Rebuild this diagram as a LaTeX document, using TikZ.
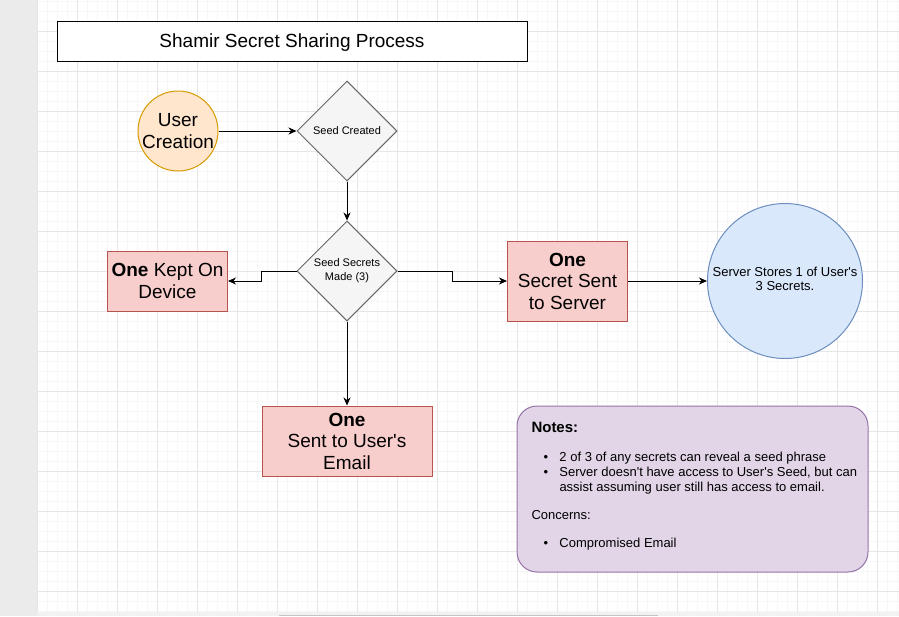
\documentclass[tikz,border=0pt]{standalone}
\usepackage{fontspec}
\setmainfont{Liberation Sans}
\usetikzlibrary{arrows.meta, shapes.geometric, positioning}

\definecolor{pagestrip}{HTML}{EBEBEB}
\definecolor{barlight}{HTML}{F2F2F2}
\definecolor{bardark}{HTML}{C4C4C4}
\definecolor{gridminor}{HTML}{F7F7F7}
\definecolor{gridmajor}{HTML}{E6E6E6}
\definecolor{userfill}{HTML}{FFE6CC}
\definecolor{userdraw}{HTML}{D79B00}
\definecolor{diafill}{HTML}{F5F5F5}
\definecolor{diadraw}{HTML}{666666}
\definecolor{sharefill}{HTML}{F8CECC}
\definecolor{sharedraw}{HTML}{B85450}
\definecolor{storefill}{HTML}{DAE8FC}
\definecolor{storedraw}{HTML}{6C8EBF}
\definecolor{notefill}{HTML}{E1D5E7}
\definecolor{notedraw}{HTML}{9673A6}

\newcommand{\bul}{\hspace*{12pt}\makebox[16pt][l]{\textbullet}}

\begin{document}
\begin{tikzpicture}[x=1pt,y=-1pt,>={Stealth[length=8pt,width=7pt,inset=2.5pt]},
                    line width=1pt,inner sep=0pt,node distance=140pt]
   \tikzstyle{bigtext}=[font=\fontsize{19}{21.5}\selectfont,align=center]
   \tikzstyle{decision}=[diamond,draw=diadraw,fill=diafill,minimum width=100pt,
                         minimum height=100pt,font=\fontsize{11}{14}\selectfont,align=center]
   \tikzstyle{share}=[rectangle,draw=sharedraw,fill=sharefill,bigtext]
   \tikzstyle{link}=[->,black]
   \tikzstyle{minorgrid}=[draw=gridminor,line width=0.8pt]
   \tikzstyle{majorgrid}=[draw=gridmajor]

   % page and grid
   \useasboundingbox (0,0) rectangle (899,616);
   \fill[white] (37,0) rectangle (899,612);
   \foreach \gx in {37,47,...,897} \draw[minorgrid] (\gx,0) -- (\gx,612);
   \foreach \gy in {1,11,...,611} \draw[minorgrid] (37,\gy) -- (899,\gy);
   \foreach \gx in {37,77,...,877} \draw[majorgrid] (\gx,0) -- (\gx,612);
   \foreach \gy in {31,71,...,591} \draw[majorgrid] (37,\gy) -- (899,\gy);
   \fill[pagestrip] (0,0) rectangle (37,616);
   \fill[barlight] (37,612) rectangle (899,616);
   \fill[bardark] (279,614.5) rectangle (658,616);

   \node[draw=black,fill=white,minimum width=470pt,minimum height=40pt,bigtext,text depth=0pt]
        (title) at (292,41) {Shamir Secret Sharing Process};

   \node[decision] (seed) at (347,131) {Seed Created};
   \node[circle,draw=userdraw,fill=userfill,minimum size=80pt,bigtext]
        (user) [node distance=169pt,left of=seed] {User\\Creation};
   \node[decision] (secrets) [below of=seed] {Seed Secrets\\Made (3)};
   \node[share,minimum width=120pt,minimum height=60pt]
        (device) [node distance=179.5pt,left of=secrets,yshift=-10pt] {\textbf{One} Kept On\\Device};
   \node[share,minimum width=120pt,minimum height=80pt]
        (server) [node distance=220.5pt,right of=secrets,yshift=-10pt] {\textbf{One}\\Secret Sent\\to Server};
   \node[circle,draw=storedraw,fill=storefill,minimum size=155pt,text depth=4pt,
         font=\fontsize{13}{14.5}\selectfont,align=center]
        (stores) [node distance=217.5pt,right of=server]
        {Server Stores 1 of User\textquotesingle s\\3 Secrets.};
   \node[share,minimum width=170pt,minimum height=70pt]
        (email) [node distance=170pt,below of=secrets] {\textbf{One}\\Sent to User\textquotesingle s\\Email};

   % notes
   \node[draw=notedraw,fill=notefill,rounded corners=20pt,minimum width=351pt,
         minimum height=166pt] (notes) at (692.5,489) {};
   \node[anchor=north west,align=left,font=\fontsize{13}{15}\selectfont]
        (notestext) at (531,422) {{\fontsize{15}{15}\selectfont\bfseries Notes:}\\[14pt]
        \bul 2 of 3 of any secrets can reveal a seed phrase\\
        \bul Server doesn\textquotesingle t have access to User\textquotesingle s Seed, but can\\
        \hspace*{28pt}assist assuming user still has access to email.\\[13pt]
        Concerns:\\[13pt]
        \bul Compromised Email};

   \draw[link] (user) -- (seed);
   \draw[link] (seed) -- (secrets);
   \draw[link] (secrets.west) -- ++(-35pt,0) |- (device.east);
   \draw[link] (secrets.east) -- ++(55pt,0) |- (server.west);
   \draw[link] (secrets.south) -- (secrets.south |- email.north);
   \draw[link] (server) -- (stores);
\end{tikzpicture}
\end{document}
